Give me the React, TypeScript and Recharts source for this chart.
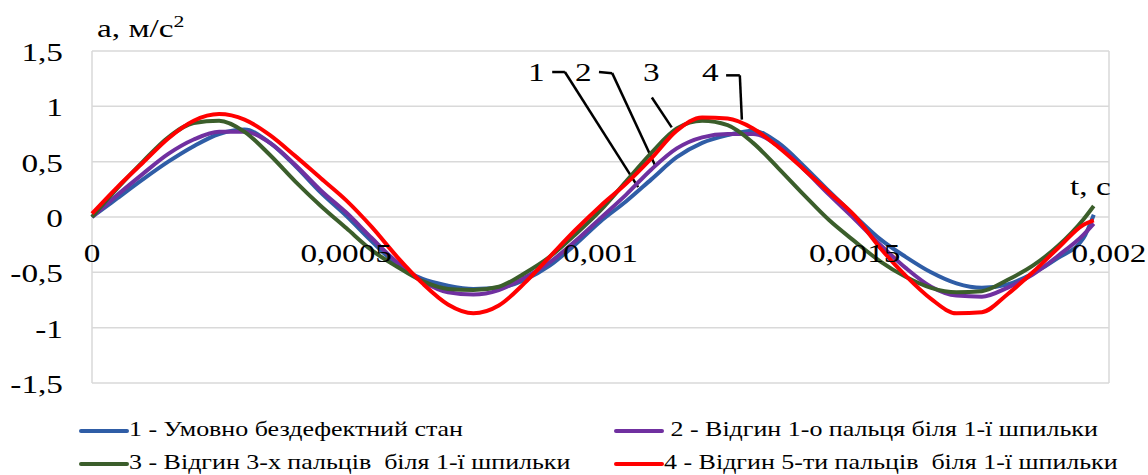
import React from 'react';
import { LineChart, Line, XAxis, YAxis, CartesianGrid, ReferenceDot, ReferenceLine } from 'recharts';

// time, s
const time = [
  0, 0.00005, 0.0001, 0.00015, 0.0002, 0.00025, 0.0003, 0.00035, 0.0004, 0.00045,
  0.0005, 0.00055, 0.0006, 0.00065, 0.0007, 0.00075, 0.0008, 0.00085, 0.0009, 0.00095,
  0.001, 0.00105, 0.0011, 0.00115, 0.0012, 0.00125, 0.0013, 0.00135, 0.0014, 0.00145,
  0.0015, 0.00155, 0.0016, 0.00165, 0.0017, 0.00175, 0.0018, 0.00185, 0.0019, 0.00195,
  0.00197,
];

// acceleration, m/s2
const s1 = [
  0, 0.17, 0.34, 0.5, 0.64, 0.75, 0.79, 0.67, 0.46, 0.22,
  0.01, -0.22, -0.43, -0.56, -0.62, -0.65, -0.64, -0.57, -0.44, -0.25,
  -0.04, 0.14, 0.34, 0.54, 0.67, 0.74, 0.78, 0.67, 0.46, 0.23,
  0.01, -0.2, -0.36, -0.5, -0.6, -0.64, -0.61, -0.51, -0.37, -0.19,
  0.02,
];
const s2 = [
  0, 0.2, 0.39, 0.57, 0.7, 0.77, 0.77, 0.67, 0.47, 0.24,
  0.04, -0.19, -0.41, -0.58, -0.68, -0.7, -0.66, -0.55, -0.41, -0.22,
  -0.01, 0.2, 0.43, 0.62, 0.72, 0.75, 0.75, 0.64, 0.43, 0.2,
  -0.02, -0.25, -0.46, -0.63, -0.71, -0.72, -0.64, -0.52, -0.35, -0.16,
  -0.06,
];
const s3 = [
  0, 0.26, 0.5, 0.72, 0.85, 0.87, 0.77, 0.56, 0.32, 0.1,
  -0.1, -0.3, -0.45, -0.58, -0.65, -0.66, -0.63, -0.51, -0.36, -0.16,
  0.06, 0.32, 0.58, 0.8, 0.87, 0.83, 0.67, 0.44, 0.2, -0.03,
  -0.22, -0.4, -0.54, -0.64, -0.68, -0.67, -0.57, -0.44, -0.26, -0.02,
  0.1,
];
const s4 = [
  0.03, 0.27, 0.49, 0.71, 0.87, 0.93, 0.88, 0.74, 0.55, 0.35,
  0.15, -0.09, -0.36, -0.6, -0.79, -0.87, -0.8, -0.6, -0.36, -0.12,
  0.1, 0.3, 0.53, 0.78, 0.9, 0.89, 0.8, 0.63, 0.43, 0.22,
  0.01, -0.28, -0.53, -0.74, -0.87, -0.86, -0.7, -0.5, -0.28, -0.07,
  -0.03,
];

const xTicks = [0, 0.0005, 0.001, 0.0015, 0.002];
const xTickLabels = ['0', '0,0005', '0,001', '0,0015', '0,002'];
const yTicks = [-1.5, -1, -0.5, 0, 0.5, 1, 1.5];

const seriesKeys = ['s1', 's2', 's3', 's4'];
const seriesNames = [
  '1 - Умовно бездефектний стан',
  ' 2 - Відгин 1-о пальця біля 1-ї шпильки',
  '3 - Відгин 3-х пальців  біля 1-ї шпильки',
  '4 - Відгин 5-ти пальців  біля 1-ї шпильки',
];
const seriesColors = ['#2F5DA6', '#7030A0', '#3B5E2B', '#FF0000'];

// leader lines from the curve numbers to the curves
const leaders = [
  [{ x: 0.000905, y: 1.31 }, { x: 0.00093, y: 1.31 }, { x: 0.001074, y: 0.27 }],
  [{ x: 0.000997, y: 1.31 }, { x: 0.001023, y: 1.3 }, { x: 0.001107, y: 0.47 }],
  [{ x: 0.001101, y: 1.08 }, { x: 0.00114, y: 0.81 }],
  [{ x: 0.001247, y: 1.28 }, { x: 0.001274, y: 1.28 }, { x: 0.001278, y: 0.88 }],
];

const data = time.map((t, i) => ({ t, s1: s1[i], s2: s2[i], s3: s3[i], s4: s4[i] }));

const FONT = '"Liberation Serif", "Times New Roman", serif';
const S = 1.28; // source picture is stretched horizontally

const YTick = (props: any) => {
  const { x, y, payload } = props;
  const label = String(payload.value).replace('.', ',');
  return (
    <text
      x={x}
      y={y + 10}
      textAnchor="end"
      fontFamily={FONT}
      fontSize={26}
      fill="#000"
      transform={`matrix(${S},0,0,1,${x * (1 - S)},0)`}
    >
      {label}
    </text>
  );
};

const xLabel = (text: string) => (props: any) => {
  const vb = props.viewBox;
  const cx = vb.x + vb.width / 2;
  const cy = vb.y + vb.height / 2;
  return (
    <text
      x={cx}
      y={cy + 45}
      textAnchor="middle"
      fontFamily={FONT}
      fontSize={26}
      fill="#000"
      transform={`matrix(${S},0,0,1,${cx * (1 - S)},0)`}
    >
      {text}
    </text>
  );
};

const Stretch = ({ x, y, size, children }: any) => (
  <div
    style={{
      position: 'absolute',
      left: x,
      top: y,
      fontSize: size,
      lineHeight: 1,
      fontFamily: FONT,
      color: '#000',
      whiteSpace: 'pre',
      transform: `scaleX(${S})`,
      transformOrigin: 'left top',
    }}
  >
    {children}
  </div>
);

const legendPos = [
  { x: 79, y: 431 },
  { x: 614, y: 431 },
  { x: 79, y: 464 },
  { x: 614, y: 464 },
];

export default function App() {
  return (
    <div style={{ position: 'absolute', left: 0, top: 0, width: 1148, height: 475, background: '#fff' }}>
      <LineChart width={1148} height={475} data={data} margin={{ top: 51, right: 39, bottom: 92, left: 0 }}>
        <CartesianGrid stroke="#d9d9d9" strokeWidth={1.5} />
        <XAxis
          dataKey="t"
          type="number"
          domain={[0, 0.002]}
          ticks={xTicks}
          tick={false}
          tickLine={false}
          axisLine={false}
          height={0}
        />
        <YAxis
          type="number"
          domain={[-1.5, 1.5]}
          ticks={yTicks}
          width={92}
          tickLine={false}
          axisLine={false}
          tickSize={0}
          tickMargin={29}
          tick={<YTick />}
        />
        {xTicks.map((v, i) => (
          <ReferenceDot
            key={v}
            x={v}
            y={0}
            r={1}
            fill="none"
            stroke="none"
            label={{ content: xLabel(xTickLabels[i]) }}
          />
        ))}
        {leaders.flatMap((pts, i) =>
          pts.slice(1).map((p, j) => (
            <ReferenceLine
              key={`${i}-${j}`}
              segment={[pts[j], p]}
              stroke="#000"
              strokeWidth={2.5}
            />
          ))
        )}
        {seriesKeys.map((k, i) => (
          <Line
            key={k}
            dataKey={k}
            type="monotone"
            stroke={seriesColors[i]}
            strokeWidth={4}
            dot={false}
            isAnimationActive={false}
          />
        ))}
      </LineChart>

      <Stretch x={97} y={16} size={26}>
        a, м/с<sup style={{ fontSize: 17, verticalAlign: 'top', position: 'relative', top: -3 }}>2</sup>
      </Stretch>
      <Stretch x={1070} y={174} size={26}>t, c</Stretch>
      <Stretch x={528} y={60} size={26}>1</Stretch>
      <Stretch x={575} y={60} size={26}>2</Stretch>
      <Stretch x={643} y={60} size={26}>3</Stretch>
      <Stretch x={702} y={60} size={26}>4</Stretch>

      {seriesNames.map((name, i) => (
        <React.Fragment key={name}>
          <div
            style={{
              position: 'absolute',
              left: legendPos[i].x,
              top: legendPos[i].y - 2,
              width: 50,
              height: 4,
              background: seriesColors[i],
              borderRadius: 2,
            }}
          />
          <Stretch x={legendPos[i].x + 50} y={legendPos[i].y - 12} size={20.3}>
            {name}
          </Stretch>
        </React.Fragment>
      ))}
    </div>
  );
}
